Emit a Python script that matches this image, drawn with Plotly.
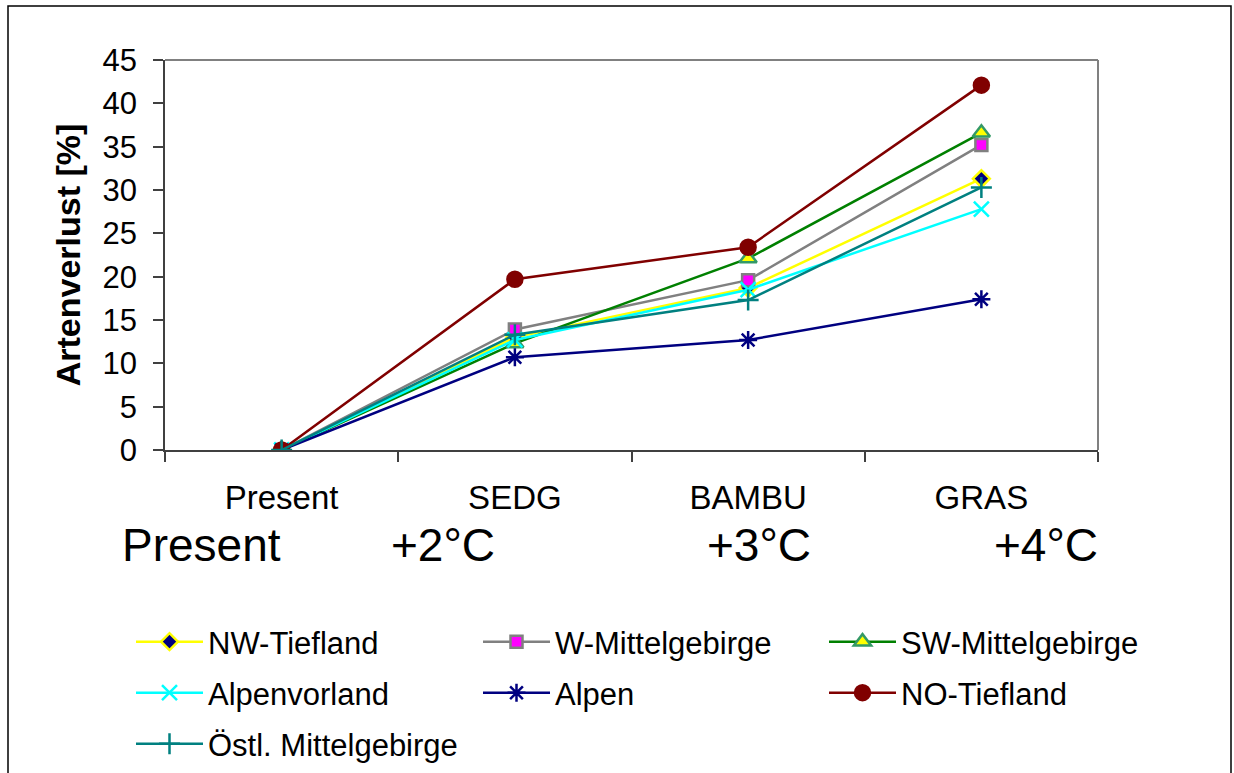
import plotly.graph_objects as go

# Scenario categories on the x axis
scenarios = ["Present", "SEDG", "BAMBU", "GRAS"]
warming_labels = ["Present", "+2°C", "+3°C", "+4°C"]

# Species loss (%) per region
nw_tiefland = [0, 13.0, 18.7, 31.3]
w_mittelgebirge = [0, 13.9, 19.6, 35.2]
sw_mittelgebirge = [0, 12.3, 22.1, 36.6]
alpenvorland = [0, 12.7, 18.5, 27.8]
alpen = [0, 10.7, 12.7, 17.4]
no_tiefland = [0, 19.7, 23.4, 42.1]
oestl_mittelgebirge = [0, 13.3, 17.3, 30.3]

FONT = "Liberation Sans, Arial, sans-serif"

# plot-area geometry in pixels
W, H = 1234, 773
L, R, T, B = 165, 1098, 60, 450
PW, PH = R - L, B - T


def px(x):
    return (x - L) / PW


def py(y):
    return (B - y) / PH


# legend grid: three columns, three rows
COLS = [131, 478, 824]
ROWS = [642, 693, 744]

series = [
    dict(name="NW-Tiefland", y=nw_tiefland, line="#FFFF00", symbol="diamond",
         fill="#000080", mline="#FFFF00", size=13, cell=(0, 0)),
    dict(name="W-Mittelgebirge", y=w_mittelgebirge, line="#808080", symbol="square",
         fill="#FF00FF", mline="#808080", size=12, cell=(0, 1)),
    dict(name="SW-Mittelgebirge", y=sw_mittelgebirge, line="#008000", symbol="triangle-up",
         fill="#FFFF00", mline="#339966", size=15, cell=(0, 2)),
    dict(name="Alpenvorland", y=alpenvorland, line="#00FFFF", symbol="x-thin-open",
         fill="#00FFFF", mline="#00FFFF", size=15, cell=(1, 0)),
    dict(name="Alpen", y=alpen, line="#000080", symbol="asterisk-open",
         fill="#000080", mline="#000080", size=15, cell=(1, 1)),
    dict(name="NO-Tiefland", y=no_tiefland, line="#800000", symbol="circle",
         fill="#800000", mline="#800000", size=15, cell=(1, 2)),
    dict(name="Östl. Mittelgebirge", y=oestl_mittelgebirge, line="#008080", symbol="cross-thin-open",
         fill="#008080", mline="#008080", size=15, cell=(2, 0)),
]

fig = go.Figure()
legends = {}
for i, s in enumerate(series):
    key = "legend" if i == 0 else f"legend{i + 1}"
    r, c = s["cell"]
    legends[key] = dict(
        orientation="v", itemwidth=67,
        font=dict(family=FONT, size=31, color="#000000"),
        bgcolor="rgba(0,0,0,0)", xanchor="left", yanchor="middle",
        x=px(COLS[c]), y=py(ROWS[r]),
        itemclick=False, itemdoubleclick=False,
    )
    fig.add_trace(go.Scatter(
        x=scenarios, y=s["y"], name=s["name"], mode="lines+markers",
        line=dict(color=s["line"], width=2.5),
        marker=dict(symbol=s["symbol"], size=s["size"], color=s["fill"],
                    line=dict(color=s["mline"], width=2.5)),
        legend=key,
    ))

annotations = []
for lbl, cx in zip(warming_labels, [201, 443, 759, 1046]):
    annotations.append(dict(
        text=lbl, x=px(cx), y=py(545), xref="paper", yref="paper",
        xanchor="center", yanchor="middle", showarrow=False,
        font=dict(family=FONT, size=46, color="#000000"),
    ))

shapes = [
    # outer frame
    dict(type="rect", xref="paper", yref="paper",
         x0=px(8), x1=px(1231), y0=py(800), y1=py(6),
         line=dict(color="#000000", width=1.5), fillcolor="rgba(0,0,0,0)"),
    # top and right plot-area border
    dict(type="line", xref="paper", yref="paper", x0=0, x1=1, y0=1, y1=1,
         line=dict(color="#808080", width=2)),
    dict(type="line", xref="paper", yref="paper", x0=1, x1=1, y0=0, y1=1,
         line=dict(color="#808080", width=2)),
]

fig.update_layout(
    width=W, height=H,
    margin=dict(l=L, r=W - R, t=T, b=H - B, pad=0, autoexpand=False),
    paper_bgcolor="#FFFFFF", plot_bgcolor="#FFFFFF",
    font=dict(family=FONT, color="#000000"),
    showlegend=True,
    annotations=annotations,
    shapes=shapes,
    xaxis=dict(
        type="category", range=[-0.5, 3.5], showgrid=False, zeroline=False,
        showline=True, linecolor="#404040", linewidth=1.5,
        ticks="outside", tickson="boundaries", ticklen=10, tickcolor="#404040",
        tickwidth=1.5, ticklabelstandoff=18, automargin=False,
        tickfont=dict(family=FONT, size=33, color="#000000"),
    ),
    yaxis=dict(
        range=[0, 45], dtick=5, showgrid=False, zeroline=False,
        showline=True, linecolor="#404040", linewidth=1.5,
        ticks="outside", ticklen=10, tickcolor="#404040", tickwidth=1.5,
        ticklabelstandoff=10, automargin=False,
        tickfont=dict(family=FONT, size=31, color="#000000"),
        title=dict(text="<b>Artenverlust [%]</b>", standoff=12,
                   font=dict(family=FONT, size=34, color="#000000")),
    ),
)
fig.update_layout(**legends)

fig.write_html("out.html")
